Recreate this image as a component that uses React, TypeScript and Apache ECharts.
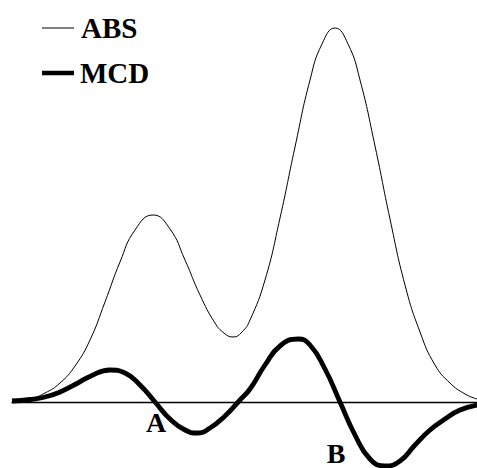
import React, { useEffect, useRef } from "react";
import * as echarts from "echarts";

// Horizontal positions (arbitrary units) and signal heights
const absX = [12, 30, 45, 60, 75, 90, 105, 120, 135, 153, 170, 185, 200, 215, 224, 233, 242, 250, 265, 280, 295, 310, 322, 335, 348, 360, 375, 390, 405, 420, 435, 450, 465, 477];
const absY = [0.5, 3, 9, 19, 36, 62, 100, 140, 172, 187, 173, 142, 107, 79, 69, 65, 70, 82, 122, 184, 255, 322, 358, 374, 358, 322, 256, 183, 117, 70, 37, 19, 8, 3];

const mcdX = [12, 30, 45, 60, 75, 90, 110, 125, 140, 155, 170, 185, 197, 210, 225, 240, 250, 265, 280, 298, 310, 325, 340, 355, 370, 385, 400, 415, 430, 445, 460, 477];
const mcdY = [1, 2.5, 5, 10, 17.5, 25.5, 32, 29, 17, 0, -17, -28, -31, -26, -14, 2, 13, 37, 56, 63, 57, 33, 0, -33, -57, -64, -59, -43, -28, -17, -8, -3];

const seriesNames = ["ABS", "MCD"];
const bandLabels = ["A", "B"];
const bandLabelX = [156, 336];
const bandLabelY = [-20, -51];

const serif = "Liberation Serif";

export default function App() {
  const ref = useRef<HTMLDivElement>(null);
  useEffect(() => {
    if (!ref.current) return;
    const chart = echarts.init(ref.current, null, { renderer: "svg" });
    const absData = absX.map((x, i) => [x, absY[i]]);
    const mcdData = mcdX.map((x, i) => [x, mcdY[i]]);
    const textStyle = { fontFamily: serif, fontWeight: "bold", fontSize: 29, fill: "#000" };
    chart.setOption({
      animation: false,
      backgroundColor: "#ffffff",
      grid: { left: 12, right: 0, top: 0, bottom: 0 },
      xAxis: {
        type: "value",
        min: 12,
        max: 477,
        axisLine: { show: true, onZero: true, lineStyle: { color: "#000", width: 1.3 } },
        axisTick: { show: false },
        axisLabel: { show: false },
        splitLine: { show: false },
      },
      yAxis: {
        type: "value",
        min: -66,
        max: 402,
        axisLine: { show: false },
        axisTick: { show: false },
        axisLabel: { show: false },
        splitLine: { show: false },
      },
      series: [
        {
          name: seriesNames[0],
          type: "line",
          data: absData,
          smooth: true,
          symbol: "none",
          lineStyle: { color: "#000", width: 1 },
          z: 2,
        },
        {
          name: seriesNames[1],
          type: "line",
          data: mcdData,
          smooth: true,
          symbol: "none",
          lineStyle: { color: "#000", width: 4.8 },
          z: 3,
        },
      ],
    });
    const bandTexts = bandLabels.map((t, i) => {
      const p = chart.convertToPixel({ gridIndex: 0 }, [bandLabelX[i], bandLabelY[i]]) as number[];
      return {
        type: "text",
        x: p[0],
        y: p[1],
        z: 10,
        style: { ...textStyle, fontSize: 28, text: t, verticalAlign: "middle", align: "center" },
      };
    });
    chart.setOption({
      graphic: [
        { type: "line", shape: { x1: 42, y1: 28, x2: 74, y2: 28 }, style: { stroke: "#000", lineWidth: 1 } },
        {
          type: "text",
          x: 81,
          y: 28,
          style: { ...textStyle, text: seriesNames[0], verticalAlign: "middle", align: "left" },
        },
        { type: "line", shape: { x1: 42, y1: 73, x2: 74, y2: 73 }, style: { stroke: "#000", lineWidth: 4.5 } },
        {
          type: "text",
          x: 80,
          y: 73,
          style: { ...textStyle, text: seriesNames[1], verticalAlign: "middle", align: "left" },
        },
        ...bandTexts,
      ],
    });
    return () => chart.dispose();
  }, []);
  return <div ref={ref} style={{ position: "fixed", left: 0, top: 0, width: 477, height: 468 }} />;
}
